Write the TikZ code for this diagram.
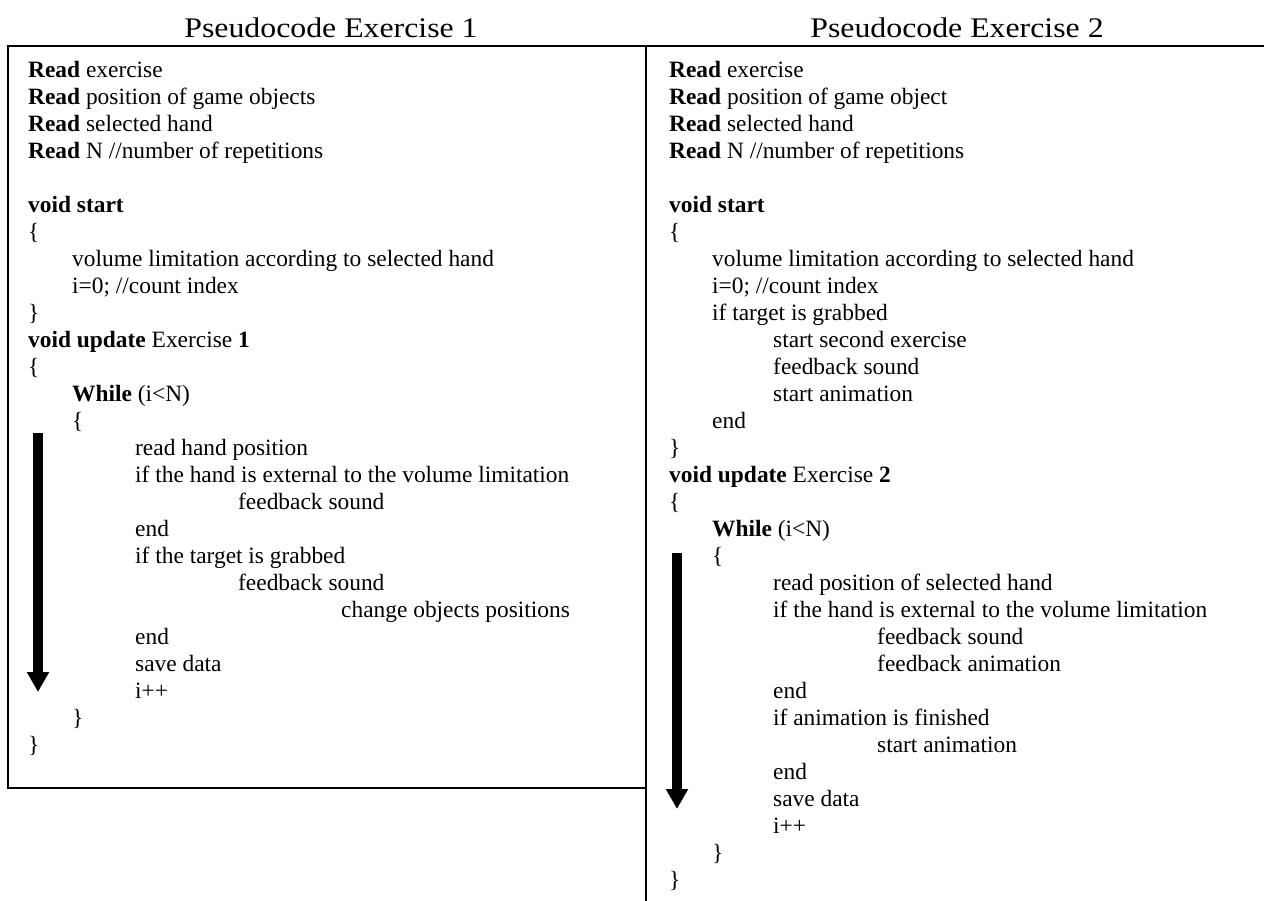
\documentclass[tikz,border=0pt]{standalone}
\usepackage{fontspec}
\setmainfont{Liberation Serif}
\newfontfamily\headfont[FakeStretch=1.12]{Liberation Serif}
\usetikzlibrary{arrows.meta}
\tikzset{
  code/.style={anchor=base west, inner sep=0pt, font=\fontsize{23.4}{27}\selectfont},
  head/.style={anchor=base, inner sep=0pt, font=\headfont\fontsize{28.4}{32}\selectfont},
  frame/.style={line width=1.6pt, line cap=rect},
  looparrow/.style={line width=10pt, -{Triangle[width=21pt,length=20pt]}}
}
\newcommand\rowy[1]{77.5+27*#1}
\begin{document}
\begin{tikzpicture}[x=1pt,y=-1pt]
\useasboundingbox (0,0) rectangle (1264,900);
% frame
\coordinate (tl) at (8,46);
\coordinate (tr) at (1264,46);
\coordinate (bl) at (8,788);
\coordinate (mb) at (646,788);
\coordinate (mt) at (646,46);
\coordinate (mbot) at (646,900);
\draw[frame] (tr) -- (tl) -- (bl) -- (mb);
\draw[frame] (mt) -- (mbot);
% headings
\node[head] (h1) at (331,37) {Pseudocode Exercise 1};
\node[head] (h2) at (957,37) {Pseudocode Exercise 2};
% left column
\def\La{28}\def\Lb{72}\def\Lc{135}\def\Ld{238}\def\Le{341}
\node[code] (l0) at (\La,{\rowy{0}}) {\textbf{Read} exercise};
\node[code] (l1) at (\La,{\rowy{1}}) {\textbf{Read} position of game objects};
\node[code] (l2) at (\La,{\rowy{2}}) {\textbf{Read} selected hand};
\node[code] (l3) at (\La,{\rowy{3}}) {\textbf{Read} N //number of repetitions};
\node[code] (l5) at (\La,{\rowy{5}}) {\textbf{void start}};
\node[code] (l6) at (\La,{\rowy{6}}) {\{};
\node[code] (l7) at (\Lb,{\rowy{7}}) {volume limitation according to selected hand};
\node[code] (l8) at (\Lb,{\rowy{8}}) {i=0; //count index};
\node[code] (l9) at (\La,{\rowy{9}}) {\}};
\node[code] (l10) at (\La,{\rowy{10}}) {\textbf{void update} Exercise \textbf{1}};
\node[code] (l11) at (\La,{\rowy{11}}) {\{};
\node[code] (l12) at (\Lb,{\rowy{12}}) {\textbf{While} (i<N)};
\node[code] (l13) at (\Lb,{\rowy{13}}) {\{};
\node[code] (l14) at (\Lc,{\rowy{14}}) {read hand position};
\node[code] (l15) at (\Lc,{\rowy{15}}) {if the hand is external to the volume limitation};
\node[code] (l16) at (\Ld,{\rowy{16}}) {feedback sound};
\node[code] (l17) at (\Lc,{\rowy{17}}) {end};
\node[code] (l18) at (\Lc,{\rowy{18}}) {if the target is grabbed};
\node[code] (l19) at (\Ld,{\rowy{19}}) {feedback sound};
\node[code] (l20) at (\Le,{\rowy{20}}) {change objects positions};
\node[code] (l21) at (\Lc,{\rowy{21}}) {end};
\node[code] (l22) at (\Lc,{\rowy{22}}) {save data};
\node[code] (l23) at (\Lc,{\rowy{23}}) {i++};
\node[code] (l24) at (\Lb,{\rowy{24}}) {\}};
\node[code] (l25) at (\La,{\rowy{25}}) {\}};
% right column
\def\Ra{669}\def\Rb{712}\def\Rc{773}\def\Rd{877}
\node[code] (r0) at (\Ra,{\rowy{0}}) {\textbf{Read} exercise};
\node[code] (r1) at (\Ra,{\rowy{1}}) {\textbf{Read} position of game object};
\node[code] (r2) at (\Ra,{\rowy{2}}) {\textbf{Read} selected hand};
\node[code] (r3) at (\Ra,{\rowy{3}}) {\textbf{Read} N //number of repetitions};
\node[code] (r5) at (\Ra,{\rowy{5}}) {\textbf{void start}};
\node[code] (r6) at (\Ra,{\rowy{6}}) {\{};
\node[code] (r7) at (\Rb,{\rowy{7}}) {volume limitation according to selected hand};
\node[code] (r8) at (\Rb,{\rowy{8}}) {i=0; //count index};
\node[code] (r9) at (\Rb,{\rowy{9}}) {if target is grabbed};
\node[code] (r10) at (\Rc,{\rowy{10}}) {start second exercise};
\node[code] (r11) at (\Rc,{\rowy{11}}) {feedback sound};
\node[code] (r12) at (\Rc,{\rowy{12}}) {start animation};
\node[code] (r13) at (\Rb,{\rowy{13}}) {end};
\node[code] (r14) at (\Ra,{\rowy{14}}) {\}};
\node[code] (r15) at (\Ra,{\rowy{15}}) {\textbf{void update} Exercise \textbf{2}};
\node[code] (r16) at (\Ra,{\rowy{16}}) {\{};
\node[code] (r17) at (\Rb,{\rowy{17}}) {\textbf{While} (i<N)};
\node[code] (r18) at (\Rb,{\rowy{18}}) {\{};
\node[code] (r19) at (\Rc,{\rowy{19}}) {read position of selected hand};
\node[code] (r20) at (\Rc,{\rowy{20}}) {if the hand is external to the volume limitation};
\node[code] (r21) at (\Rd,{\rowy{21}}) {feedback sound};
\node[code] (r22) at (\Rd,{\rowy{22}}) {feedback animation};
\node[code] (r23) at (\Rc,{\rowy{23}}) {end};
\node[code] (r24) at (\Rc,{\rowy{24}}) {if animation is finished};
\node[code] (r25) at (\Rd,{\rowy{25}}) {start animation};
\node[code] (r26) at (\Rc,{\rowy{26}}) {end};
\node[code] (r27) at (\Rc,{\rowy{27}}) {save data};
\node[code] (r28) at (\Rc,{\rowy{28}}) {i++};
\node[code] (r29) at (\Rb,{\rowy{29}}) {\}};
\node[code] (r30) at (\Ra,{\rowy{30}}) {\}};
% loop arrows
\coordinate (a1s) at (38,433);
\coordinate (a1e) at (38,692);
\coordinate (a2s) at (677,553);
\coordinate (a2e) at (677,809);
\draw[looparrow] (a1s) -- (a1e);
\draw[looparrow] (a2s) -- (a2e);
\end{tikzpicture}
\end{document}
